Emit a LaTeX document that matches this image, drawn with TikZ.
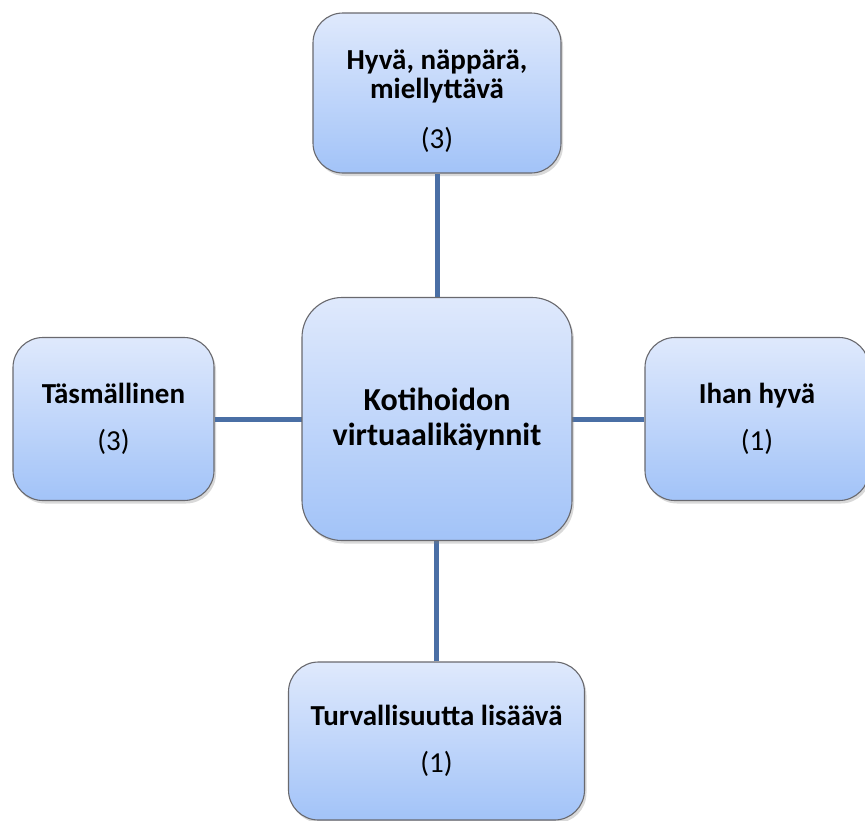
\documentclass[tikz,border=0pt]{standalone}
\usepackage{fontspec}
\setmainfont{Carlito}
\usetikzlibrary{shadows}
\definecolor{BoxTop}{RGB}{223,233,252}
\definecolor{BoxBottom}{RGB}{162,195,248}
\definecolor{BoxLine}{RGB}{105,105,110}
\definecolor{LinkBlue}{RGB}{74,111,165}
\newcommand{\LabelFont}{\fontsize{29}{29}\selectfont}
\newcommand{\CentreFont}{\fontsize{32}{35}\selectfont\bfseries}
\tikzset{BlueBox/.style={
    inner sep=0pt,
    draw=BoxLine,
    line width=1.1pt,
    rounded corners=30pt,
    top color=BoxTop,
    bottom color=BoxBottom,
    drop shadow={shadow xshift=2pt, shadow yshift=-3pt, opacity=0.3},
    align=center,
    font=\LabelFont
    }
}
\tikzset{Link/.style={
    draw=LinkBlue,
    line width=5pt
    }
}

\begin{document}
\begin{tikzpicture}[x=1pt, y=-1pt]
    \useasboundingbox (0,0) rectangle (865,820);

    % connectors first, boxes on top
    \coordinate (c) at (437,419);

    \node (top)[BlueBox, minimum width=248pt, minimum height=160pt] at (437,93)
    {\rule{0pt}{36pt}\textbf{Hyvä, näppärä,}\\ \textbf{miellyttävä}\\[21pt] (3)};

    \node (left)[BlueBox, minimum width=201pt, minimum height=163pt] at (113.5,419)
    {\textbf{Täsmällinen}\\[18pt] (3)};

    \node (right)[BlueBox, minimum width=224pt, minimum height=163pt] at (757,419)
    {\textbf{Ihan hyvä}\\[18pt] (1)};

    \node (bottom)[BlueBox, minimum width=296pt, minimum height=158pt] at (436.5,741)
    {\textbf{Turvallisuutta lisäävä}\\[18pt] (1)};

        \draw [Link] (top.south) -- (top.south |- c) ;
        \draw [Link] (bottom.north) -- (bottom.north |- c);
        \draw [Link] (left.east) -- (c);
        \draw [Link] (right.west) -- (c);

    \node (centre)[BlueBox, minimum width=270pt, minimum height=243pt,
        rounded corners=40pt, font=\CentreFont] at (c)
    {Kotihoidon\\ virtuaalikäynnit};

\end{tikzpicture}
\end{document}
